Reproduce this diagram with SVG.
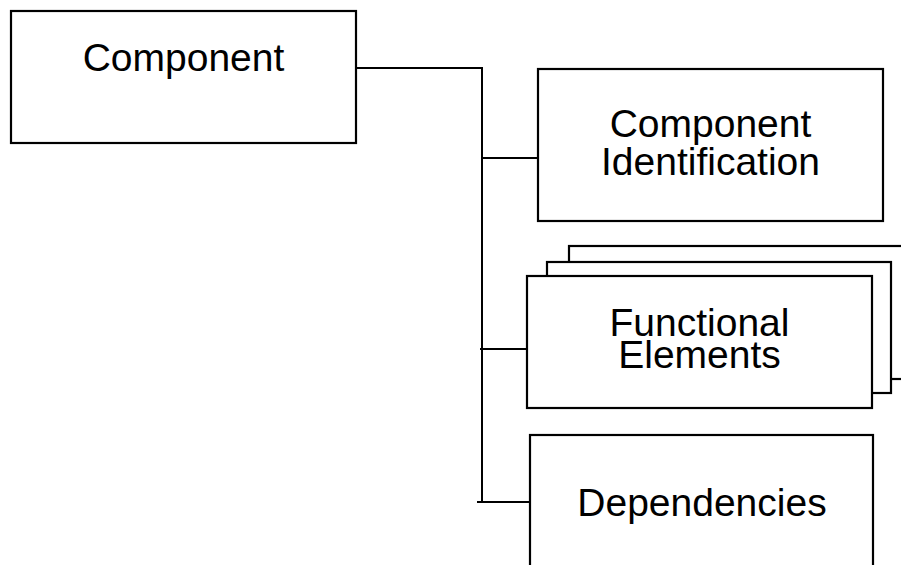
<svg xmlns="http://www.w3.org/2000/svg" width="901" height="565" viewBox="0 0 901 565">
<style>
.box{fill:#fff;stroke:#000;stroke-width:2.2}
.line{fill:none;stroke:#000;stroke-width:2}
.t{font-family:"Liberation Sans",Arial,sans-serif;font-size:39px;fill:#000;text-anchor:middle}
</style>
<rect width="901" height="565" fill="#fff"/>
<g id="connectors">
<polyline class="line" points="357,68 482,68 482,502"/>
<line class="line" x1="482" y1="158" x2="538" y2="158"/>
<line class="line" x1="480" y1="349" x2="527" y2="349"/>
<line class="line" x1="477" y1="502" x2="530" y2="502"/>
</g>
<g id="component">
<rect class="box" x="11" y="11" width="345" height="132"/>
<text class="t" x="183.5" y="71">Component</text>
</g>
<g id="component-identification">
<rect class="box" x="538" y="69" width="345" height="152"/>
<text class="t" x="710.5" y="137">Component</text>
<text class="t" x="710.5" y="175">Identification</text>
</g>
<g id="functional-elements">
<rect class="box" x="569" y="246" width="345" height="133"/>
<rect class="box" x="547" y="262" width="344" height="131"/>
<rect class="box" x="527" y="276" width="345" height="132"/>
<text class="t" x="699.5" y="336">Functional</text>
<text class="t" x="699.5" y="368">Elements</text>
</g>
<g id="dependencies">
<rect class="box" x="530" y="435" width="343" height="150"/>
<text class="t" x="702" y="516">Dependencies</text>
</g>
</svg>
